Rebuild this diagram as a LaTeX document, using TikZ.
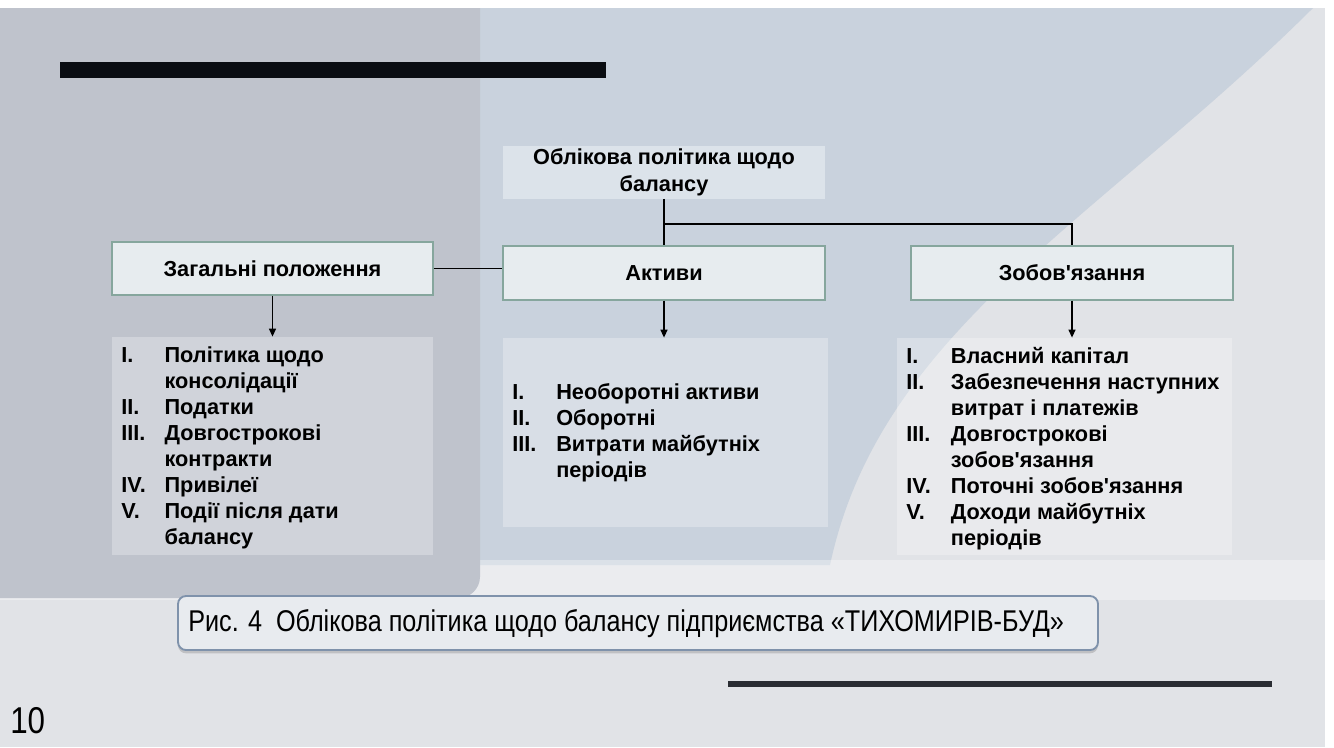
\documentclass[tikz,border=0pt]{standalone}
\usepackage{fontspec}
\newfontfamily\lsans{Liberation Sans}
\newfontfamily\capfont{Liberation Sans}[FakeStretch=0.84]
\usetikzlibrary{arrows.meta,fit,shadows}
\definecolor{bgfloor}{HTML}{E1E3E7}
\definecolor{bgblue}{HTML}{C9D2DD}
\definecolor{bgleft}{HTML}{BFC3CC}
\definecolor{topfill}{HTML}{DCE3EA}
\definecolor{hdrfill}{HTML}{E7ECEF}
\definecolor{hdrborder}{HTML}{86A69D}
\definecolor{capborder}{HTML}{7F92AB}
\definecolor{capfill}{HTML}{E8EBEF}
\definecolor{barblack}{HTML}{0A0D12}
\definecolor{bargray}{HTML}{2A2D33}
\tikzset{
  lab/.style={font=\lsans\bfseries\fontsize{16.3}{19.5}\selectfont},
  topbox/.style={font=\lsans\bfseries\fontsize{16.3}{20.5}\selectfont, fill=topfill, inner sep=0pt, align=center, minimum width=241.5pt, minimum height=39.75pt},
  hdr/.style={lab, draw=hdrborder, line width=0.8pt, fill=hdrfill, inner sep=0pt, minimum width=241.5pt, minimum height=40.5pt},
  listbox/.style={fill=white, fill opacity=0.28, inner sep=0pt},
  listtxt/.style={lab, anchor=north west, inner sep=0pt},
  conn/.style={line width=1.4pt, black},
  arr/.style={conn, -{Triangle[length=6pt,width=5pt]}},
  capbox/.style={draw=capborder, line width=1.4pt, fill=capfill, rounded corners=6pt, inner sep=0pt,
    drop shadow={shadow xshift=0pt, shadow yshift=-2.5pt, opacity=0.35}},
}
\begin{document}
\begin{tikzpicture}[x=0.75pt,y=-0.75pt]
\useasboundingbox (0,0) rectangle (1334,747);
% background
\fill[white] (0,0) rectangle (1334,747);
\begin{scope}
\clip (0,8) rectangle (1325,747);
\fill[bgfloor] (0,8) rectangle (1325,747);
\fill[bgblue] (470,8) -- (1313,8) .. controls (1100,220) and (880,330) .. (830,565) -- (470,565) -- cycle;
\fill[white, opacity=0.35] (0,560) rectangle (1325,600);
\fill[bgleft, rounded corners=16pt] (-30,-30) rectangle (480,598);
\end{scope}
\fill[barblack] (60,62) rectangle (606,78);
\fill[bargray] (728,681) rectangle (1272,687);
% top
\node[topbox] (top) at (664,172) {Облікова політика щодо\\балансу};
% headers
\node[hdr, minimum width=240.75pt, minimum height=39.75pt] (zag) at (272.5,268.5) {Загальні положення};
\node[hdr] (akt) at (664,273) {Активи};
\node[hdr] (zob) at (1072,273) {Зобов\char39язання};
% list boxes
\node[listbox, fit={(112,337) (433,555)}] (zlist) {};
\node[listbox, fit={(503,338) (828,527)}] (alist) {};
\node[listbox, fit={(897,338) (1232,555)}] (olist) {};
% list texts
\node[listtxt] (ztxt) at (121,344) {\begin{tabular}{@{}p{32.5pt}@{}l@{}}
I. & Політика щодо\\ & консолідації\\
II. & Податки\\
III. & Довгострокові\\ & контракти\\
IV. & Привілеї\\
V. & Події після дати\\ & балансу
\end{tabular}};
\node[listtxt] (atxt) at (512,381) {\begin{tabular}{@{}p{33pt}@{}l@{}}
I. & Необоротні активи\\
II. & Оборотні\\
III. & Витрати майбутніх\\ & періодів
\end{tabular}};
\node[listtxt] (otxt) at (906,345) {\begin{tabular}{@{}p{33.5pt}@{}l@{}}
I. & Власний капітал\\
II. & Забезпечення наступних\\ & витрат і платежів\\
III. & Довгострокові\\ & зобов\char39язання\\
IV. & Поточні зобов\char39язання\\
V. & Доходи майбутніх\\ & періодів
\end{tabular}};
% connectors
\coordinate (j) at (664,224);
\draw[conn] (top.south) -- (akt.north);
\draw[conn] (j) -| (zob.north);
\draw[conn] (zag.east) -- (zag.east -| akt.west);
\draw[arr] (zag.south) -- (zlist.north);
\draw[arr] (akt.south) -- (akt.south |- alist.north);
\draw[arr] (zob.south) -- (zob.south |- olist.north);
% caption
\node[capbox, fit={(178,596) (1098,650)}] (cap) {};
\node[anchor=west, inner sep=0pt, font=\capfont\fontsize{22.5}{24}\selectfont] (captxt) at (188,624) {Рис. 4\ \ Облікова політика щодо балансу підприємства «ТИХОМИРІВ-БУД»};
% page number
\node[anchor=west, inner sep=0pt, font=\capfont\fontsize{28}{30}\selectfont] (pg) at (10,721) {10};
\end{tikzpicture}
\end{document}
